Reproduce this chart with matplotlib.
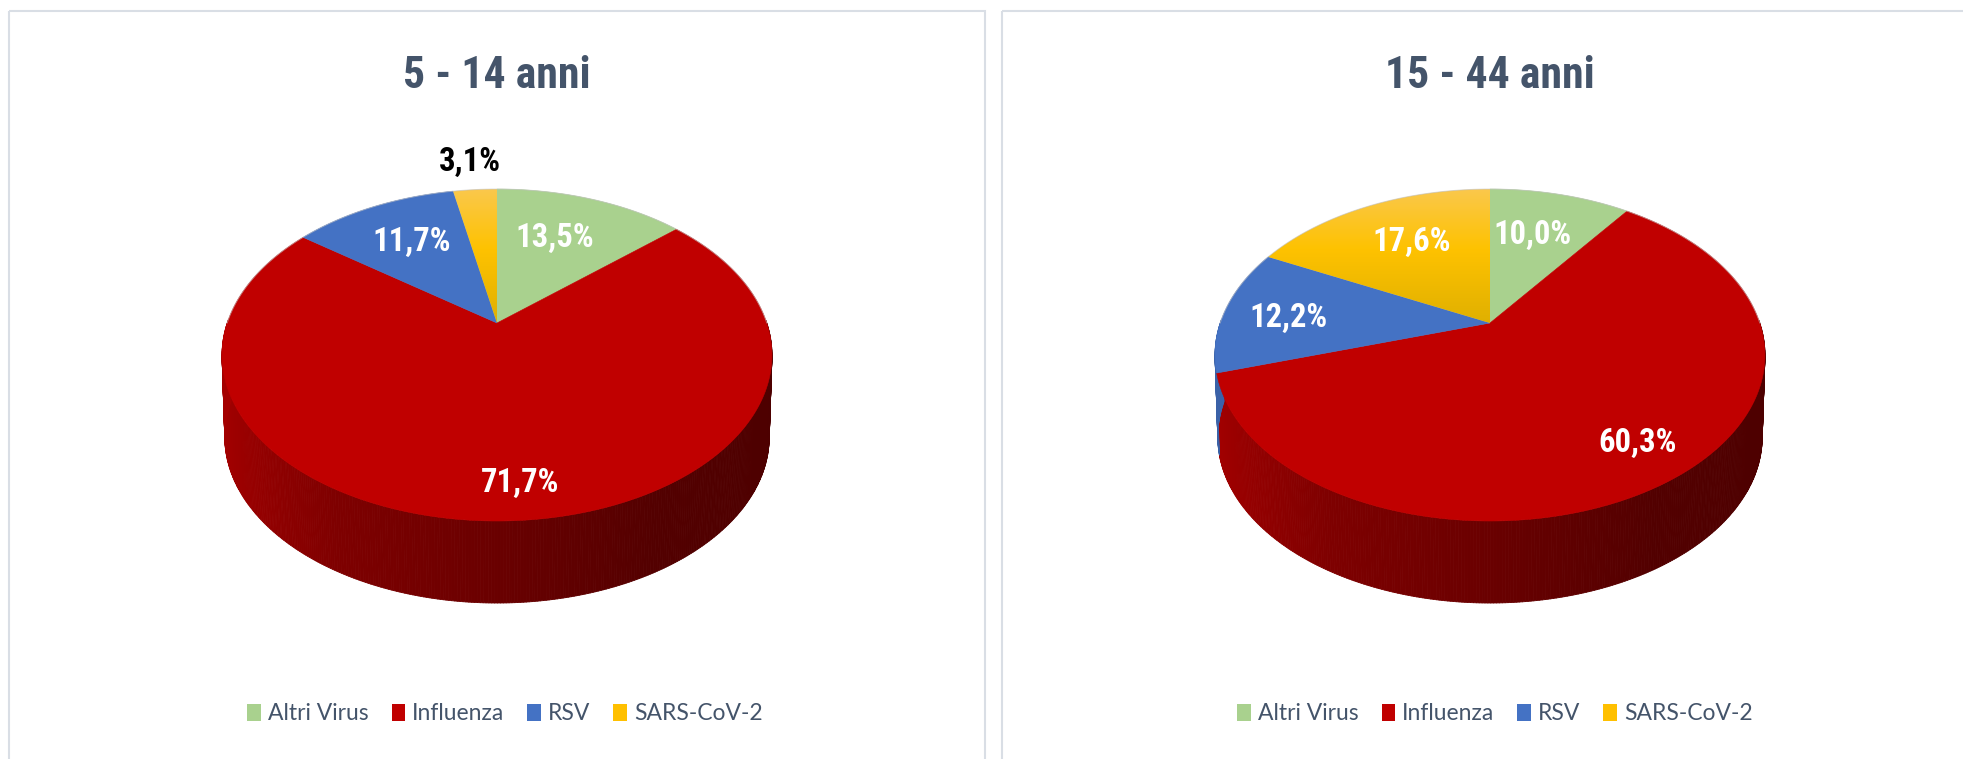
"""
Two Excel-style 3D pie charts: virus share by age group (5-14 and 15-44 anni).
Output: out.png
"""

import numpy as np
import matplotlib
matplotlib.use("Agg")
import matplotlib.pyplot as plt
from matplotlib.patches import Polygon, Rectangle, Patch
from matplotlib.collections import PolyCollection
from matplotlib.colors import LinearSegmentedColormap, to_rgb

# -------------------------------------------------
# Data
# -------------------------------------------------
categories = ["Altri Virus", "Influenza", "RSV", "SARS-CoV-2"]
titles = ["5 - 14 anni", "15 - 44 anni"]
values_5_14 = [13.5, 71.7, 11.7, 3.1]
values_15_44 = [10.0, 60.3, 12.2, 17.6]

colors = ["#A9D18E", "#C00000", "#4472C4", "#FFC000"]
label_colors_5_14 = ["white", "white", "white", "black"]
label_colors_15_44 = ["white", "white", "white", "white"]

# -------------------------------------------------
# Layout (pixels)
# -------------------------------------------------
W, H = 1963, 759
pie_centers = [(497, 323), (1490, 323)]
R, B, K, T = 269.8, 159.8, 0.193, 82     # radius x, radius y, perspective, thickness
# label offsets from the pie apex
label_offsets_5_14 = [(58, -85), (23, 160), (-85, -81), (-27, -161)]
label_offsets_15_44 = [(42, -88), (148, 120), (-202, -5), (-78, -81)]

TITLE_FONT = ["Roboto Condensed", "DejaVu Sans"]
LEGEND_FONT = ["Lato", "DejaVu Sans"]
TEXT_COLOR = "#44546A"

fig = plt.figure(figsize=(W / 100, H / 100), dpi=100)
ax = fig.add_axes([0, 0, 1, 1])
ax.set_xlim(0, W)
ax.set_ylim(H, 0)
ax.axis("off")


def proj(cx, cy, theta, bottom=False):
    """Project a rim point of the disc (angle theta, radians) to pixels."""
    u = np.cos(theta)
    v = np.sin(theta)
    w = 1 + K * v
    x = cx + R * u / w
    y = cy - B * v / w
    if bottom:
        x = cx + 0.99 * (x - cx)
        y = y + T
    return x, y


def side_shade(u):
    return np.interp(u, [-1, -0.5, 0, 0.5, 1], [0.86, 0.66, 0.55, 0.43, 0.40])


def draw_pie(cx, cy, values, title, offsets, lab_colors):
    fracs = np.array(values) / np.sum(values)
    bounds = np.concatenate([[0], np.cumsum(fracs)]) * 360   # clockwise from 12 o'clock

    # side wall, front half only
    quads, qcols = [], []
    for i in range(len(values)):
        a = np.linspace(bounds[i], bounds[i + 1], int((bounds[i + 1] - bounds[i]) * 2) + 2)
        th = np.radians(90 - a)
        for ta, tb in zip(th[:-1], th[1:]):
            tm = 0.5 * (ta + tb)
            if np.sin(tm) > 0.02:
                continue
            xa, ya = proj(cx, cy, ta)
            xb, yb = proj(cx, cy, tb)
            xc, yc = proj(cx, cy, tb, bottom=True)
            xd, yd = proj(cx, cy, ta, bottom=True)
            quads.append([(xa, ya), (xb, yb), (xc, yc), (xd, yd)])
            qcols.append(np.array(to_rgb(colors[i])) * side_shade(np.cos(tm)))
    ax.add_collection(PolyCollection(quads, facecolors=qcols, edgecolors=qcols,
                                     linewidths=0.6, zorder=2))

    # top face
    for i in range(len(values)):
        a = np.linspace(bounds[i], bounds[i + 1], 200)
        th = np.radians(90 - a)
        xs, ys = proj(cx, cy, th)
        pts = np.column_stack([np.r_[cx, xs], np.r_[cy, ys]])
        if categories[i] == "SARS-CoV-2":
            poly = Polygon(pts, closed=True, fc="none", ec="none", zorder=3)
            ax.add_patch(poly)
            cmap = LinearSegmentedColormap.from_list(
                "sars", [(0, "#FAC84C"), (0.45, "#FEC200"), (1, "#E0B000")])
            y0, y1 = pts[:, 1].min(), pts[:, 1].max()
            grad = np.linspace(0, 1, 256).reshape(-1, 1)
            im = ax.imshow(grad, cmap=cmap, aspect="auto", origin="upper",
                           extent=[pts[:, 0].min(), pts[:, 0].max(), y1, y0], zorder=3)
            im.set_clip_path(poly)
        else:
            ax.add_patch(Polygon(pts, closed=True, fc=colors[i], ec=colors[i],
                                 lw=0.4, zorder=3))

    # faint rim on the back edge
    th = np.linspace(0, np.pi, 200)
    xs, ys = proj(cx, cy, th)
    ax.plot(xs, ys, color="#BFBFBF", lw=0.7, alpha=0.6, zorder=4)

    # data labels
    for v, (dx, dy), c in zip(values, offsets, lab_colors):
        ax.text(cx + dx, cy + dy, f"{v:.1f}%".replace(".", ","), ha="center", va="center",
                fontsize=23.5, fontweight="bold", color=c, family=TITLE_FONT, zorder=5)

    ax.text(cx, 76, title, ha="center", va="center", fontsize=31.5, fontweight="bold",
            color=TEXT_COLOR, family=TITLE_FONT)


# -------------------------------------------------
# Panels and pies
# -------------------------------------------------
for x0 in (9, 1002):
    ax.add_patch(Rectangle((x0, 11), 976, 800, fill=False, ec="#D9DEE5", lw=1.5, zorder=1))

draw_pie(*pie_centers[0], values_5_14, titles[0], label_offsets_5_14, label_colors_5_14)
draw_pie(*pie_centers[1], values_15_44, titles[1], label_offsets_15_44, label_colors_15_44)

ax.set_xlim(0, W)
ax.set_ylim(H, 0)

# -------------------------------------------------
# Legends
# -------------------------------------------------
handles = [Patch(fc=c, ec="none") for c in colors]
for lx in (505, 1495):
    fig.legend(handles, categories, loc="center", bbox_to_anchor=(lx / W, 1 - 714 / H),
               ncol=4, frameon=False, prop={"family": LEGEND_FONT, "size": 16.5},
               labelcolor=TEXT_COLOR, handlelength=0.6, handleheight=0.75,
               handletextpad=0.3, columnspacing=1.0)

fig.savefig("out.png", dpi=100, facecolor="white")
